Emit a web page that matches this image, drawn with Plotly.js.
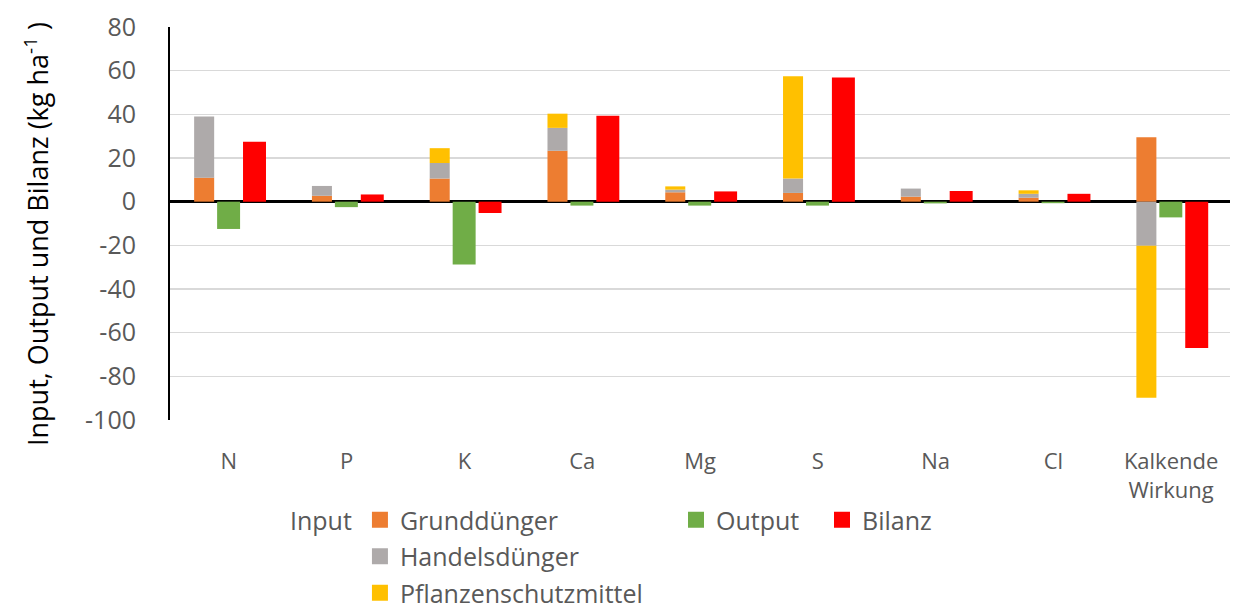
<!DOCTYPE html>
<html>
<head>
<meta charset="utf-8">
<script src="https://cdn.plot.ly/plotly-3.0.1.min.js"></script>
<style>html,body{margin:0;padding:0;background:#fff;}#chart{width:1245px;height:608px;}</style>
</head>
<body>
<div id="chart"></div>
<script>
const categories = ['N', 'P', 'K', 'Ca', 'Mg', 'S', 'Na', 'Cl', 'Kalkende<br>Wirkung'];
const grundduenger = [11, 2.7, 10.6, 23.3, 4.3, 4, 2.3, 1.8, 29.5];
const handelsduenger = [28, 4.5, 7.1, 10.5, 1.2, 6.6, 3.7, 1.8, -20.2];
const pflanzenschutz = [0, 0, 6.8, 6.5, 1.5, 46.9, 0, 1.6, -69.6];
const output = [-12.5, -2.5, -28.8, -1.8, -1.8, -1.8, -0.8, -0.7, -7.2];
const bilanz = [27.4, 3.3, -5.2, 39.3, 4.7, 56.9, 4.9, 3.6, -67];
const yTicks = [80, 60, 40, 20, 0, -20, -40, -60, -80, -100];
const yTitle = 'Input, Output und Bilanz (kg ha<sup>-1</sup> )';

const font = 'Open Sans, sans-serif';
const grey = '#595959';
const colors = {grund: '#ED7D31', handel: '#AEAAAA', pflanz: '#FFC000', output: '#70AD47', bilanz: '#FF0000'};

function bar(name, vals, color, xaxis, width, offset) {
  return {type: 'bar', name: name, x: categories, y: vals, xaxis: xaxis, yaxis: 'y',
    marker: {color: color, line: {width: 0}}, width: width, offset: offset, showlegend: false};
}
function legendItem(name, color, legend, group) {
  return {type: 'scatter', mode: 'markers', name: name, x: [null], y: [null], xaxis: 'x', yaxis: 'y',
    marker: {symbol: 'square', size: 16, color: color, line: {width: 0}},
    legend: legend, legendgroup: group, showlegend: true};
}

const traces = [
  bar('Grunddünger', grundduenger, colors.grund, 'x', 0.17, -0.295),
  bar('Handelsdünger', handelsduenger, colors.handel, 'x', 0.17, -0.295),
  bar('Pflanzenschutzmittel', pflanzenschutz, colors.pflanz, 'x', 0.17, -0.295),
  bar('Output', output, colors.output, 'x2', 0.195, -0.1),
  bar('Bilanz', bilanz, colors.bilanz, 'x3', 0.195, 0.12),
  legendItem('Grunddünger', colors.grund, 'legend', 'g1'),
  legendItem('Handelsdünger', colors.handel, 'legend', 'g2'),
  legendItem('Pflanzenschutzmittel', colors.pflanz, 'legend', 'g3'),
  legendItem('Output', colors.output, 'legend2', 'g4'),
  legendItem('Bilanz', colors.bilanz, 'legend3', 'g5')
];

const xRange = [-0.5, categories.length - 0.5];
const hiddenX = {type: 'category', categoryorder: 'array', categoryarray: categories, range: xRange,
  domain: [0, 1], anchor: 'y', overlaying: 'x', side: 'bottom',
  showgrid: false, zeroline: false, showline: false, showticklabels: false, ticks: ''};

const legendFont = {family: font, size: 25, color: grey};
const legendY = -(497 - 420) / 393;

const layout = {
  width: 1245, height: 608,
  margin: {l: 170, r: 15, t: 27, b: 188, autoexpand: false},
  paper_bgcolor: '#fff', plot_bgcolor: '#fff',
  barmode: 'relative',
  font: {family: font, size: 22, color: grey},
  showlegend: true,
  xaxis: {type: 'category', categoryorder: 'array', categoryarray: categories, range: xRange,
    domain: [0, 1], anchor: 'y',
    showgrid: false, zeroline: false, showline: false, ticks: '',
    tickfont: {family: font, size: 22, color: grey}, ticklabelstandoff: 26,
    automargin: false},
  xaxis2: hiddenX,
  xaxis3: hiddenX,
  yaxis: {range: [-100, 80], tickvals: yTicks, ticktext: yTicks.map(String),
    showgrid: true, gridcolor: '#D9D9D9', gridwidth: 1.5,
    zeroline: true, zerolinecolor: '#000', zerolinewidth: 2.5,
    showline: true, linecolor: '#000', linewidth: 2, ticks: '',
    tickfont: {family: font, size: 25, color: grey}, ticklabelstandoff: 27,
    automargin: false},
  annotations: [{text: yTitle, textangle: -90, xref: 'paper', yref: 'paper',
    x: (36 - 170) / 1060, y: (420 - 234) / 393, xanchor: 'center', yanchor: 'middle',
    showarrow: false, font: {family: font, size: 27, color: '#000'}}],
  legend: {x: (288 - 170) / 1060, y: legendY,
    xanchor: 'left', yanchor: 'top', orientation: 'v', traceorder: 'grouped', tracegroupgap: 1,
    title: {text: 'Input', side: 'left', font: legendFont},
    font: legendFont, bgcolor: 'rgba(0,0,0,0)', borderwidth: 0},
  legend2: {x: (676 - 170) / 1060, y: legendY,
    xanchor: 'left', yanchor: 'top', font: legendFont, bgcolor: 'rgba(0,0,0,0)'},
  legend3: {x: (822 - 170) / 1060, y: legendY,
    xanchor: 'left', yanchor: 'top', font: legendFont, bgcolor: 'rgba(0,0,0,0)'}
};

Plotly.newPlot('chart', traces, layout, {displayModeBar: false, staticPlot: true});
</script>
</body>
</html>
